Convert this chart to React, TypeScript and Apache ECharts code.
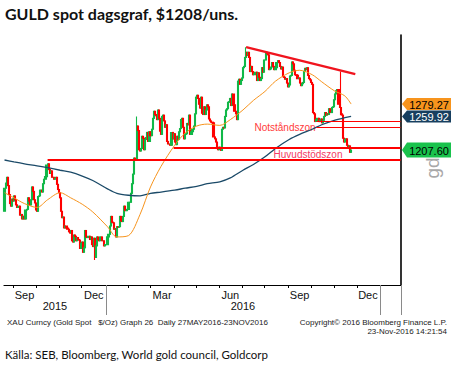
import React, { useEffect, useRef } from "react";
import * as echarts from "echarts";

// ---- axis range (trading days) ----
const axisStart = "2015-08-19";
const axisEnd = "2017-01-27";
const firstOpen = 1112;

// ---- daily closes, XAU $/oz, one value per weekday ----
const aug15 = [1148, 1156, 1165, 1152, 1138, 1124, 1120, 1131, 1128];
const sep15 = [1136, 1130, 1122, 1118, 1119, 1120, 1106, 1107, 1100, 1104, 1100, 1114, 1115, 1133, 1128, 1122, 1130, 1150, 1143, 1130, 1125, 1114];
const oct15 = [1112, 1135, 1136, 1145, 1145, 1142, 1155, 1162, 1166, 1184, 1186, 1177, 1171, 1175, 1165, 1165, 1162, 1163, 1165, 1154, 1146, 1141];
const nov15 = [1133, 1112, 1102, 1103, 1086, 1089, 1086, 1084, 1080, 1078, 1082, 1066, 1064, 1075, 1073, 1066, 1071, 1068, 1067, 1054, 1062];
const dec15 = [1064, 1048, 1055, 1082, 1072, 1071, 1073, 1068, 1072, 1060, 1057, 1070, 1040, 1058, 1072, 1068, 1066, 1072, 1072, 1066, 1066, 1058, 1060];
const jan16 = [1060, 1072, 1076, 1089, 1104, 1095, 1094, 1084, 1085, 1072, 1088, 1087, 1088, 1104, 1097, 1096, 1104, 1120, 1113, 1113, 1115];
const feb16 = [1126, 1126, 1140, 1155, 1170, 1195, 1193, 1192, 1245, 1238, 1208, 1206, 1210, 1229, 1226, 1208, 1224, 1227, 1235, 1221, 1236];
const mar16 = [1230, 1240, 1257, 1268, 1263, 1261, 1255, 1270, 1257, 1237, 1232, 1260, 1262, 1253, 1243, 1247, 1221, 1217, 1217, 1215, 1235, 1225, 1233];
const apr16 = [1220, 1216, 1229, 1224, 1236, 1241, 1255, 1257, 1243, 1225, 1232, 1233, 1249, 1247, 1262, 1232, 1236, 1240, 1245, 1264, 1290];
const may16 = [1293, 1288, 1279, 1273, 1290, 1265, 1263, 1275, 1263, 1270, 1278, 1275, 1256, 1253, 1251, 1250, 1228, 1225, 1220, 1210, 1208, 1212];
const jun16 = [1211, 1207, 1240, 1243, 1242, 1260, 1270, 1272, 1282, 1283, 1288, 1277, 1295, 1278, 1268, 1264, 1255, 1315, 1318, 1310, 1316, 1320];
const jul16 = [1336, 1338, 1352, 1360, 1355, 1360, 1352, 1330, 1338, 1330, 1325, 1326, 1329, 1316, 1328, 1321, 1316, 1319, 1336, 1329, 1348];
const aug16 = [1348, 1360, 1358, 1356, 1333, 1334, 1337, 1344, 1338, 1333, 1336, 1344, 1347, 1344, 1338, 1334, 1337, 1322, 1321, 1318, 1319, 1312, 1306];
const sep16 = [1309, 1323, 1324, 1345, 1342, 1332, 1325, 1324, 1319, 1320, 1312, 1308, 1311, 1313, 1330, 1335, 1333, 1336, 1324, 1319, 1317, 1313];
const oct16 = [1310, 1266, 1264, 1252, 1255, 1257, 1252, 1254, 1256, 1250, 1254, 1260, 1266, 1262, 1264, 1263, 1272, 1266, 1266, 1274, 1275];
const nov16 = [1286, 1295, 1300, 1302, 1279, 1274, 1264, 1262, 1226, 1220, 1224, 1225, 1215, 1210, 1214, 1204, 1207.6];

// ---- notable wicks ----
const wickDates = ["2015-12-17", "2016-02-11", "2016-07-06", "2016-11-09"];
const wickLows = [1036, 1236, 1350, 1262];
const wickHighs = [1058, 1260, 1368, 1330];

// ---- moving averages (read at sample dates) ----
const maDates = ["2015-08-19", "2015-09-01", "2015-09-15", "2015-10-01", "2015-10-15", "2015-11-02", "2015-11-16", "2015-12-01", "2015-12-15", "2016-01-04", "2016-01-15", "2016-02-01", "2016-02-16", "2016-03-01", "2016-03-15", "2016-04-01", "2016-04-15", "2016-05-02", "2016-05-16", "2016-06-01", "2016-06-15", "2016-07-01", "2016-07-15", "2016-08-01", "2016-08-15", "2016-09-01", "2016-09-15", "2016-10-03", "2016-10-14", "2016-11-01", "2016-11-15", "2016-11-23"];
const ma50 = [1141, 1133, 1124, 1118, 1130, 1141, 1133, 1123, 1111, 1088, 1072, 1074, 1107, 1150, 1182, 1215, 1234, 1245, 1248, 1246, 1255, 1270, 1285, 1299, 1315, 1328, 1332, 1325, 1314, 1300, 1292, 1279.27];
const ma200 = [1192, 1189, 1186, 1183, 1180, 1176, 1173, 1167, 1160, 1147, 1140, 1137, 1136, 1140, 1142, 1145, 1148, 1151, 1155, 1158, 1164, 1176, 1185, 1197, 1210, 1224, 1232, 1240, 1247, 1254, 1258, 1259.92];

// ---- annotation levels ----
const trendDates = ["2016-07-06", "2016-11-29"];
const trendValues = [1368, 1326];
const supportStarts = ["2016-03-31", "2015-10-15"];
const supportValues = [1211.5, 1192.5];
const resistanceStart = "2016-10-07";
const resistanceValues = [1252.8, 1243.4];

const labeledMonths = [2, 5, 8, 11];
const labeledYears = ["2015", "2016"];
const MONTHS = ["Jan", "Feb", "Mar", "Apr", "May", "Jun", "Jul", "Aug", "Sep", "Oct", "Nov", "Dec"];

function weekdays(start: string, end: string): string[] {
  const out: string[] = [];
  const d = new Date(start + "T00:00:00Z");
  const e = new Date(end + "T00:00:00Z");
  while (d <= e) {
    const wd = d.getUTCDay();
    if (wd !== 0 && wd !== 6) out.push(d.toISOString().slice(0, 10));
    d.setUTCDate(d.getUTCDate() + 1);
  }
  return out;
}

export default function App() {
  const ref = useRef<HTMLDivElement>(null);
  useEffect(() => {
    const el = ref.current!;
    const chart = echarts.init(el, null, { renderer: "svg" });
    const dates = weekdays(axisStart, axisEnd);
    const n = dates.length;
    const closes = [...aug15, ...sep15, ...oct15, ...nov15, ...dec15, ...jan16, ...feb16, ...mar16, ...apr16, ...may16, ...jun16, ...jul16, ...aug16, ...sep16, ...oct16, ...nov16];
    const candles = closes.map((c, i) => {
      const o = i === 0 ? firstOpen : closes[i - 1];
      let lo = Math.min(o, c);
      let hi = Math.max(o, c);
      const w = wickDates.indexOf(dates[i]);
      if (w >= 0) {
        lo = Math.min(lo, wickLows[w]);
        hi = Math.max(hi, wickHighs[w]);
      }
      return [o, c, lo, hi];
    });

    const monthStart = (i: number) => i > 0 && dates[i].slice(0, 7) !== dates[i - 1].slice(0, 7);
    const yearStart = (i: number) => i > 0 && dates[i].slice(0, 4) !== dates[i - 1].slice(0, 4);
    const monthLabel = new Set<number>();
    const yearLabel = new Set<number>();
    let s = 0;
    for (let i = 1; i <= n; i++) {
      if (i === n || monthStart(i)) {
        const m = +dates[s].slice(5, 7) - 1;
        if (labeledMonths.includes(m)) monthLabel.add(s + Math.floor((i - 1 - s) / 2));
        s = i;
      }
    }
    s = 0;
    for (let i = 1; i <= n; i++) {
      if (i === n || yearStart(i)) {
        if (labeledYears.includes(dates[s].slice(0, 4))) yearLabel.add(s + Math.floor((i - 1 - s) / 2));
        s = i;
      }
    }

    const maSeries = (vals: number[]) => {
      const arr: (number | null)[] = new Array(n).fill(null);
      maDates.forEach((d, k) => {
        arr[dates.indexOf(d)] = vals[k];
      });
      return arr;
    };

    const idx = (d: string) => dates.indexOf(d);
    const last = n - 1;
    const red = "#ff0000";
    const markData: any[] = [
      [
        { coord: [idx(trendDates[0]), trendValues[0]], lineStyle: { width: 2.2, color: "#f0141e" } },
        { coord: [idx(trendDates[1]), trendValues[1]] },
      ],
      ...supportStarts.map((d, k) => [
        { coord: [idx(d), supportValues[k]], lineStyle: { width: 2.2, color: red } },
        { coord: [last, supportValues[k]] },
      ]),
      ...resistanceValues.map((v) => [
        { coord: [idx(resistanceStart), v], lineStyle: { width: 1, color: red } },
        { coord: [last, v] },
      ]),
    ];

    const font = "Liberation Sans";
    const option: any = {
      animation: false,
      grid: { left: 4, right: 56, top: 35, bottom: 88, outerBoundsMode: "none" },
      xAxis: [
        {
          type: "category",
          data: dates,
          boundaryGap: true,
          axisLine: { show: true, onZero: false, lineStyle: { color: "#000", width: 1.2 } },
          axisTick: { show: true, interval: (i: number) => monthStart(i), length: 3, lineStyle: { color: "#000" } },
          axisLabel: {
            show: true,
            interval: (i: number) => monthLabel.has(i),
            formatter: (v: string) => MONTHS[+v.slice(5, 7) - 1],
            margin: 4,
            fontSize: 11,
            color: "#111",
            fontFamily: font,
          },
          splitLine: { show: false },
        },
        {
          type: "category",
          data: dates,
          position: "bottom",
          offset: 0,
          boundaryGap: true,
          axisLine: { show: false },
          axisTick: { show: true, interval: (i: number) => yearStart(i), length: 30, lineStyle: { color: "#8a8a8a" } },
          axisLabel: {
            show: true,
            interval: (i: number) => yearLabel.has(i),
            formatter: (v: string) => v.slice(0, 4),
            margin: 15,
            fontSize: 11,
            color: "#111",
            fontFamily: font,
          },
          splitLine: { show: false },
        },
      ],
      yAxis: {
        type: "value",
        position: "right",
        min: 997,
        max: 1387,
        axisLine: { show: true, lineStyle: { color: "#000", width: 1.6 } },
        axisTick: { show: false },
        axisLabel: { show: false },
        splitLine: { show: false },
      },
      series: [
        {
          type: "line",
          data: maSeries(ma200),
          connectNulls: true,
          showSymbol: false,
          smooth: 0.3,
          silent: true,
          lineStyle: { color: "#1b4a68", width: 1.3 },
        },
        {
          type: "candlestick",
          data: candles,
          barWidth: 1.6,
          silent: true,
          itemStyle: { color: "#10b848", color0: "#ff0000", borderColor: "#10b848", borderColor0: "#ff0000", borderWidth: 1.1 },
          markLine: {
            symbol: ["none", "none"],
            silent: true,
            label: { show: false },
            lineStyle: { type: "solid", color: red, width: 2 },
            data: markData,
          },
        },
        {
          type: "line",
          data: maSeries(ma50),
          connectNulls: true,
          showSymbol: false,
          smooth: 0.3,
          silent: true,
          lineStyle: { color: "#f7941d", width: 1 },
        },
      ],
    };
    chart.setOption(option);

    const flagVals = [ma50[ma50.length - 1], ma200[ma200.length - 1], closes[closes.length - 1]];
    const flagFill = ["#f7941d", "#173f5f", "#19c24c"];
    const flagText = ["#000", "#fff", "#000"];
    const flagH = [12, 12, 15];
    const flags: any[] = flagVals.map((v, k) => {
      const y = chart.convertToPixel({ yAxisIndex: 0 }, v) as number;
      const h = flagH[k] / 2;
      return {
        type: "group",
        id: "flag" + k,
        children: [
          {
            type: "polygon",
            shape: { points: [[402, y], [407, y - h], [451, y - h], [451, y + h], [407, y + h]] },
            style: { fill: flagFill[k] },
          },
          {
            type: "text",
            x: 429,
            y: y + 0.5,
            style: { text: v.toFixed(2), fill: flagText[k], font: `11px "${font}"`, align: "center", verticalAlign: "middle" },
          },
        ],
      };
    });

    chart.setOption({
      graphic: [
        {
          type: "text",
          id: "title",
          x: 5,
          y: 13,
          style: { text: "GULD spot dagsgraf, $1208/uns.", fill: "#111", font: 'bold 16px "Lato"', verticalAlign: "middle" },
        },
        {
          type: "text",
          id: "resist",
          x: 285,
          y: 127,
          style: { text: "Notståndszon", fill: "#ff3b3b", font: `10px "${font}"`, align: "center", verticalAlign: "middle" },
        },
        {
          type: "text",
          id: "support",
          x: 308,
          y: 154,
          style: { text: "Huvudstödszon", fill: "#f23c64", font: `10px "${font}"`, align: "center", verticalAlign: "middle" },
        },
        {
          type: "text",
          id: "wm",
          x: 432,
          y: 168,
          rotation: Math.PI / 2,
          style: { text: "gd", fill: "#a8a8a8", font: `19px "${font}"`, align: "center", verticalAlign: "middle" },
        },
        {
          type: "text",
          id: "f1",
          x: 7,
          y: 322,
          style: { text: "XAU Curncy (Gold Spot   $/Oz) Graph 26  Daily 27MAY2016-23NOV2016", fill: "#222", font: `8px "${font}"`, verticalAlign: "middle" },
        },
        {
          type: "text",
          id: "f2",
          x: 447,
          y: 322,
          style: { text: "Copyright© 2016 Bloomberg Finance L.P.", fill: "#222", font: `8px "${font}"`, align: "right", verticalAlign: "middle" },
        },
        {
          type: "text",
          id: "f3",
          x: 447,
          y: 331,
          style: { text: "23-Nov-2016 14:21:54", fill: "#222", font: `8px "${font}"`, align: "right", verticalAlign: "middle" },
        },
        {
          type: "text",
          id: "src",
          x: 5,
          y: 354,
          style: { text: "Källa: SEB, Bloomberg, World gold council, Goldcorp", fill: "#111", font: '11.5px "Lato"', verticalAlign: "middle" },
        },
        ...flags,
      ],
    });

    return () => chart.dispose();
  }, []);
  return <div ref={ref} style={{ position: "fixed", left: 0, top: 0, width: 457, height: 373, background: "#fff" }} />;
}
